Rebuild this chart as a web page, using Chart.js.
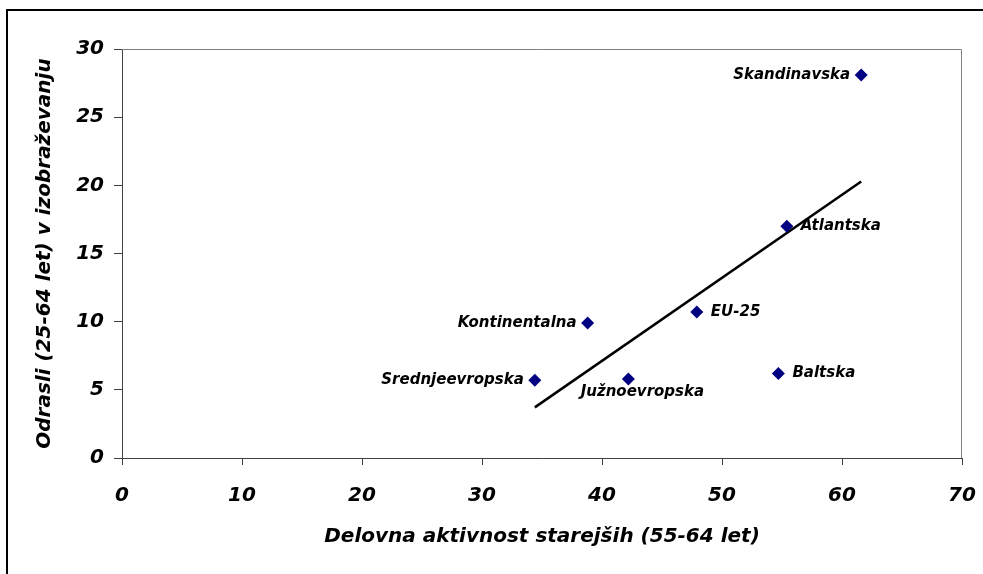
<!DOCTYPE html>
<html>
<head>
<meta charset="utf-8">
<script src="https://cdn.jsdelivr.net/npm/chart.js@4.4.1/dist/chart.umd.min.js"></script>
<style>
html,body{margin:0;padding:0;background:#fff;}
#wrap{width:983px;height:574px;position:relative;}
</style>
</head>
<body>
<div id="wrap"><canvas id="c" width="983" height="574"></canvas></div>
<script>
// Data
const regions = ['Skandinavska','Atlantska','EU-25','Kontinentalna','Srednjeevropska','Južnoevropska','Baltska'];
const olderActivity = [61.6, 55.4, 47.9, 38.8, 34.4, 42.2, 54.7];   // x: Delovna aktivnost starejših (55-64 let)
const adultEducation = [28.1, 17.0, 10.7, 9.9, 5.7, 5.8, 6.2];     // y: Odrasli (25-64 let) v izobraževanju
const xTicks = [0,10,20,30,40,50,60,70];
const yTicks = [0,5,10,15,20,25,30];
const labelSide = ['left','right','right','left','left','below','right'];

// Least-squares trend line across the data range (as in the original chart)
function trend(xs, ys){
  const n = xs.length;
  const mx = xs.reduce((a,b)=>a+b,0)/n, my = ys.reduce((a,b)=>a+b,0)/n;
  let sxy=0, sxx=0;
  for(let i=0;i<n;i++){ sxy += (xs[i]-mx)*(ys[i]-my); sxx += (xs[i]-mx)**2; }
  const b = sxy/sxx, a = my - b*mx;
  const x0 = Math.min(...xs), x1 = Math.max(...xs);
  return [{x:x0,y:a+b*x0},{x:x1,y:a+b*x1}];
}

const FONT = '"DejaVu Sans", "Liberation Sans", Arial, sans-serif';
const AXIS = '#404040';

const decor = {
  id:'decor',
  beforeDraw(chart){
    const ctx = chart.ctx;
    ctx.save();
    ctx.fillStyle='#fff';
    ctx.fillRect(0,0,chart.width,chart.height);
    ctx.strokeStyle='#000';
    ctx.lineWidth=2;
    ctx.beginPath();
    ctx.moveTo(7,chart.height+5);
    ctx.lineTo(7,10);
    ctx.lineTo(chart.width+5,10);
    ctx.stroke();
    ctx.restore();
  },
  afterDatasetsDraw(chart){
    const ctx = chart.ctx;
    const a = chart.chartArea;
    ctx.save();
    ctx.strokeStyle='#808080';
    ctx.lineWidth=1;
    ctx.beginPath();
    ctx.moveTo(a.left, a.top+0.5);
    ctx.lineTo(a.right-0.5, a.top+0.5);
    ctx.lineTo(a.right-0.5, a.bottom);
    ctx.stroke();
    // data labels
    const meta = chart.getDatasetMeta(1);
    ctx.fillStyle='#000';
    ctx.font = 'italic bold 15px ' + FONT;
    meta.data.forEach((pt,i)=>{
      const side = labelSide[i];
      const t = regions[i];
      ctx.textBaseline='middle';
      if(side==='left'){ ctx.textAlign='right'; ctx.fillText(t, pt.x-11, pt.y); }
      else if(side==='right'){ ctx.textAlign='left'; ctx.fillText(t, pt.x+14, pt.y); }
      else { ctx.textAlign='center'; ctx.fillText(t, pt.x+14, pt.y+13); }
    });
    ctx.restore();
  }
};

new Chart(document.getElementById('c'), {
  type:'scatter',
  data:{
    datasets:[
      {
        type:'line',
        label:'Trend',
        data: trend(olderActivity, adultEducation),
        borderColor:'#000',
        borderWidth:2.5,
        pointRadius:0,
        fill:false,
        order:1
      },
      {
        label:'Regije',
        data: olderActivity.map((x,i)=>({x:x, y:adultEducation[i]})),
        pointStyle:'rectRot',
        pointRadius:6.5,
        pointHoverRadius:6.5,
        backgroundColor:'#000080',
        borderColor:'#000080',
        borderWidth:0,
        order:0
      }
    ]
  },
  options:{
    responsive:false,
    animation:false,
    events:[],
    layout:{padding:{left:33, right:21, top:49, bottom:0}},
    plugins:{legend:{display:false}, tooltip:{enabled:false}},
    scales:{
      x:{
        type:'linear',
        min:0, max:70,
        afterBuildTicks(s){ s.ticks = xTicks.map(v=>({value:v})); },
        afterFit(s){ s.height = 574-458; s.paddingLeft = 0; s.paddingRight = 0; },
        grid:{drawOnChartArea:false, drawTicks:true, tickLength:7, color:AXIS, lineWidth:1},
        border:{display:true, color:AXIS, width:1},
        ticks:{color:'#000', padding:19, maxRotation:0, font:{family:FONT, size:20, style:'italic', weight:'bold'}},
        title:{display:true, text:'Delovna aktivnost starejših (55-64 let)', color:'#000',
               font:{family:FONT, size:20, style:'italic', weight:'bold'}, padding:{top:0, bottom:25}}
      },
      y:{
        type:'linear',
        min:0, max:30,
        afterBuildTicks(s){ s.ticks = yTicks.map(v=>({value:v})); },
        afterFit(s){ s.width = 122-33; s.paddingTop = 0; s.paddingBottom = 0; },
        grid:{drawOnChartArea:false, drawTicks:true, tickLength:8, color:AXIS, lineWidth:1},
        border:{display:true, color:AXIS, width:1},
        ticks:{color:'#000', padding:10, font:{family:FONT, size:20, style:'italic', weight:'bold'}},
        title:{display:true, text:'Odrasli (25-64 let) v izobraževanju', color:'#000',
               font:{family:FONT, size:20, style:'italic', weight:'bold'}, padding:{top:0, bottom:0}}
      }
    }
  },
  plugins:[decor]
});
</script>
</body>
</html>
